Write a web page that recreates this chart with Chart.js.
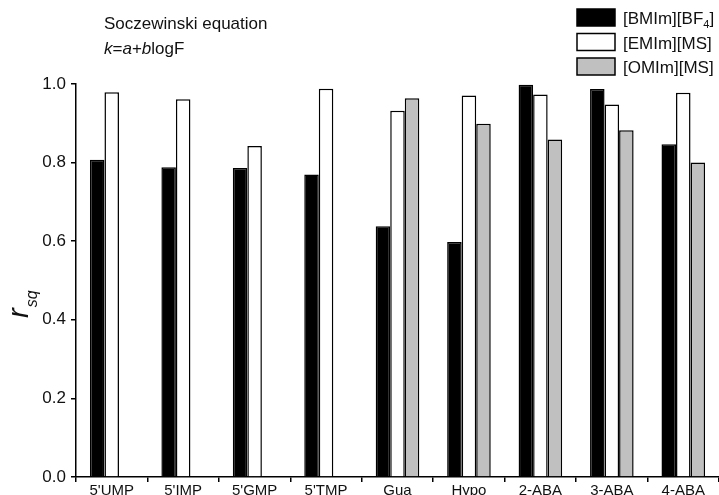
<!DOCTYPE html>
<html>
<head>
<meta charset="utf-8">
<script src="https://cdn.jsdelivr.net/npm/chart.js@4.4.1/dist/chart.umd.min.js"></script>
<style>
  html, body { margin: 0; padding: 0; background: #fff; overflow: hidden; }
  #wrap { width: 719px; height: 495px; overflow: hidden; }
</style>
</head>
<body>
<div id="wrap"><canvas id="chart" width="719" height="505"></canvas></div>
<script>
// categories and r_sq values
const categories = ["5'UMP", "5'IMP", "5'GMP", "5'TMP", "Gua", "Hypo", "2-ABA", "3-ABA", "4-ABA"];
const bmimBF4 = [0.807, 0.788, 0.786, 0.770, 0.638, 0.598, 0.998, 0.987, 0.847];
const emimMS = [0.979, 0.961, 0.842, 0.988, 0.932, 0.971, 0.973, 0.948, 0.978];
const omimMS = [null, null, null, null, 0.964, 0.899, 0.859, 0.882, 0.800];
const yTicks = [0, 0.2, 0.4, 0.6, 0.8, 1.0];

const FONT = "'Liberation Sans', Arial, sans-serif";

// legend labels: main text + subscript
const legendItems = [
  { text: "[BMIm][BF", sub: "4", after: "]", fill: "#000000" },
  { text: "[EMIm][MS]", sub: "", after: "", fill: "#ffffff" },
  { text: "[OMIm][MS]", sub: "", after: "", fill: "#c0c0c0" }
];

const extras = {
  id: "extras",
  afterDraw(chart) {
    const ctx = chart.ctx;
    ctx.save();
    ctx.fillStyle = "#111";
    ctx.textBaseline = "alphabetic";
    ctx.textAlign = "left";

    // annotation
    ctx.font = "17px " + FONT;
    ctx.fillText("Soczewinski equation", 104, 29);
    let x = 104;
    const parts = [["k", true], ["=", false], ["a", true], ["+", false], ["b", true], ["logF", false]];
    parts.forEach(p => {
      ctx.font = (p[1] ? "italic " : "") + "17px " + FONT;
      ctx.fillText(p[0], x, 54);
      x += ctx.measureText(p[0]).width;
    });

    // legend
    legendItems.forEach((it, i) => {
      const top = 9 + i * 24.5;
      ctx.fillStyle = it.fill;
      ctx.fillRect(577, top, 38, 17);
      ctx.strokeStyle = "#000";
      ctx.lineWidth = 1.5;
      ctx.strokeRect(577, top, 38, 17);
      ctx.fillStyle = "#111";
      ctx.font = "17px " + FONT;
      let tx = 623;
      ctx.fillText(it.text, tx, top + 15);
      tx += ctx.measureText(it.text).width;
      if (it.sub) {
        ctx.font = "11px " + FONT;
        ctx.fillText(it.sub, tx, top + 19);
        tx += ctx.measureText(it.sub).width;
        ctx.font = "17px " + FONT;
        ctx.fillText(it.after, tx, top + 15);
      }
    });

    // y axis title r_sq, rotated
    ctx.translate(28, 318);
    ctx.rotate(-Math.PI / 2);
    ctx.font = "italic 29px " + FONT;
    ctx.fillText("r", 0, 0);
    const rw = ctx.measureText("r").width;
    ctx.font = "italic 16px " + FONT;
    ctx.fillText("sq", rw + 1, 9);
    ctx.restore();
  }
};

new Chart(document.getElementById("chart"), {
  type: "bar",
  data: {
    labels: categories,
    datasets: [
      { label: "[BMIm][BF4]", data: bmimBF4, backgroundColor: "#000000", borderColor: "#000", borderWidth: 1.5 },
      { label: "[EMIm][MS]", data: emimMS, backgroundColor: "#ffffff", borderColor: "#000", borderWidth: 1.5 },
      { label: "[OMIm][MS]", data: omimMS, backgroundColor: "#c0c0c0", borderColor: "#000", borderWidth: 1.5 }
    ]
  },
  options: {
    responsive: false,
    animation: false,
    devicePixelRatio: 1,
    layout: { padding: { top: 84, right: 0, bottom: 0, left: 0 } },
    datasets: { bar: { categoryPercentage: 0.61, barPercentage: 1.0 } },
    plugins: {
      legend: { display: false },
      tooltip: { enabled: false }
    },
    scales: {
      x: {
        afterFit(scale) { scale.height = 28; },
        grid: { drawOnChartArea: false, drawTicks: true, tickLength: 5, color: "#000", lineWidth: 1.5, offset: true },
        border: { color: "#000", width: 1.5 },
        ticks: { color: "#111", font: { family: FONT, size: 15 }, padding: 0, maxRotation: 0, autoSkip: false }
      },
      y: {
        min: 0,
        max: 1.0,
        afterFit(scale) { scale.width = 76; },
        afterBuildTicks(scale) { scale.ticks = yTicks.map(v => ({ value: v })); },
        grid: { drawOnChartArea: false, drawTicks: true, tickLength: 5, color: "#000", lineWidth: 1.5 },
        border: { color: "#000", width: 1.5 },
        ticks: {
          color: "#111",
          font: { family: FONT, size: 17 },
          padding: 5,
          callback: v => v.toFixed(1)
        }
      }
    }
  },
  plugins: [extras]
});
</script>
</body>
</html>
